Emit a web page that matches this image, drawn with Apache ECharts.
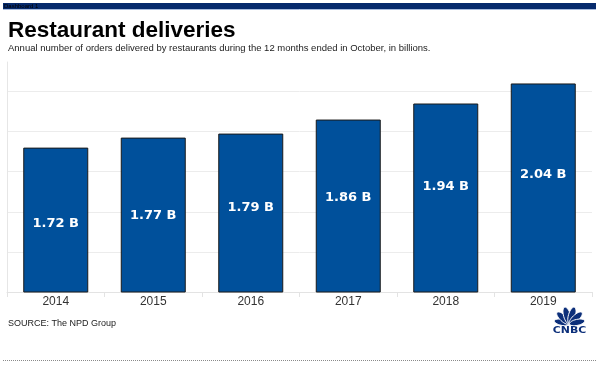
<!DOCTYPE html>
<html><head><meta charset="utf-8">
<script src="https://cdn.jsdelivr.net/npm/echarts@6/dist/echarts.min.js"></script>
<style>html,body{margin:0;padding:0;background:#fff}#c{width:601px;height:372px}</style>
</head><body><div id="c"></div>
<script>
const years = ['2014', '2015', '2016', '2017', '2018', '2019'];
const orders = [1.72, 1.77, 1.79, 1.86, 1.94, 2.04];
const valueLabels = ['1.72 B', '1.77 B', '1.79 B', '1.86 B', '1.94 B', '2.04 B'];
const titleText = 'Restaurant deliveries';
const subtitleText = 'Annual number of orders delivered by restaurants during the 12 months ended in October, in billions.';
const sourceText = 'SOURCE: The NPD Group';
const dashText = 'Dashboard 1';
const logoText = 'CNBC';
const yMin = 1.0, yMax = 2.147, yStep = 0.2;

// style: vertical nudge of each value label from the bar centre (px)
const labelShift = [4, 1, -5, -8, -11, -13];

const FONT = "'Liberation Sans', Arial, sans-serif";
const navy = '#0c2f7a';

// peacock feathers for the logo (decoration)
const feathers = [
  { a: -78, l: 15.5, w: 3.0 }, { a: -47, l: 17, w: 3.3 }, { a: -16, l: 17.5, w: 3.5 },
  { a: 16, l: 17.5, w: 3.5 }, { a: 47, l: 17, w: 3.3 }, { a: 78, l: 15.5, w: 3.0 }
];
const baseX = 569.5, baseY = 324;
const logoEls = feathers.map(f => ({
  type: 'ellipse', x: baseX, y: baseY, rotation: -f.a * Math.PI / 180,
  shape: { cx: 0, cy: -f.l / 2, rx: f.w, ry: f.l / 2 },
  style: { fill: navy, stroke: '#fff', lineWidth: 0.9 }
}));

const chart = echarts.init(document.getElementById('c'), null, { renderer: 'canvas' });
chart.setOption({
  animation: false,
  backgroundColor: '#fff',
  grid: { left: 7, right: 9, top: 62, bottom: 80 },
  xAxis: {
    type: 'category', data: years,
    axisLine: { show: true, lineStyle: { color: '#e3e3e3', width: 1 } },
    axisTick: { show: true, length: 5, lineStyle: { color: '#e3e3e3' } },
    axisLabel: { color: '#333', fontSize: 12, fontFamily: FONT, margin: 4 },
    splitLine: { show: false }
  },
  yAxis: {
    type: 'value', min: yMin, max: yMax, interval: yStep,
    axisLine: { show: true, lineStyle: { color: '#e6e6e6' } },
    axisTick: { show: false }, axisLabel: { show: false },
    splitLine: { show: true, showMinLine: false, showMaxLine: false, lineStyle: { color: '#ececec', width: 1 } }
  },
  series: [{
    type: 'bar', barWidth: 65,
    data: orders.map((v, i) => ({ value: v, label: { offset: [0, labelShift[i]] } })),
    itemStyle: { color: '#00509b', borderColor: '#1a1a1a', borderWidth: 1 },
    label: {
      show: true, position: 'inside',
      formatter: p => valueLabels[p.dataIndex],
      color: '#fff', fontSize: 13, fontWeight: 'bold', fontFamily: "'DejaVu Sans', sans-serif"
    }
  }],
  graphic: [
    { type: 'rect', shape: { x: 3, y: 3, width: 593, height: 6 }, style: { fill: '#062a6c' } },
    { type: 'line', shape: { x1: 3, y1: 9.5, x2: 596, y2: 9.5 }, style: { stroke: '#a8bbdd', lineWidth: 1 } },
    { type: 'text', x: 4, y: 6, style: { text: dashText, fontSize: 6, fill: '#000', fontFamily: FONT, textVerticalAlign: 'middle' } },
    { type: 'text', x: 8, y: 30.5, style: { text: titleText, fontSize: 22.5, fontWeight: 'bold', fill: '#000', fontFamily: FONT, textVerticalAlign: 'middle' } },
    { type: 'text', x: 8, y: 48, style: { text: subtitleText, fontSize: 9.5, fill: '#222', fontFamily: FONT, textVerticalAlign: 'middle' } },
    { type: 'text', x: 8, y: 324, style: { text: sourceText, fontSize: 9, fill: '#222', fontFamily: FONT, textVerticalAlign: 'middle' } },
    { type: 'line', shape: { x1: 3, y1: 360.5, x2: 597, y2: 360.5 }, style: { stroke: '#8a8a8a', lineWidth: 1, lineDash: [1, 1] } },
    ...logoEls,
    { type: 'text', x: 569.5, y: 330.5, scaleX: 1.15, originX: 0, originY: 0, style: { text: logoText, fontSize: 9.5, fontWeight: 'bold', fill: navy, fontFamily: "'DejaVu Sans', sans-serif", textAlign: 'center', textVerticalAlign: 'middle' } }
  ]
});
</script></body></html>
